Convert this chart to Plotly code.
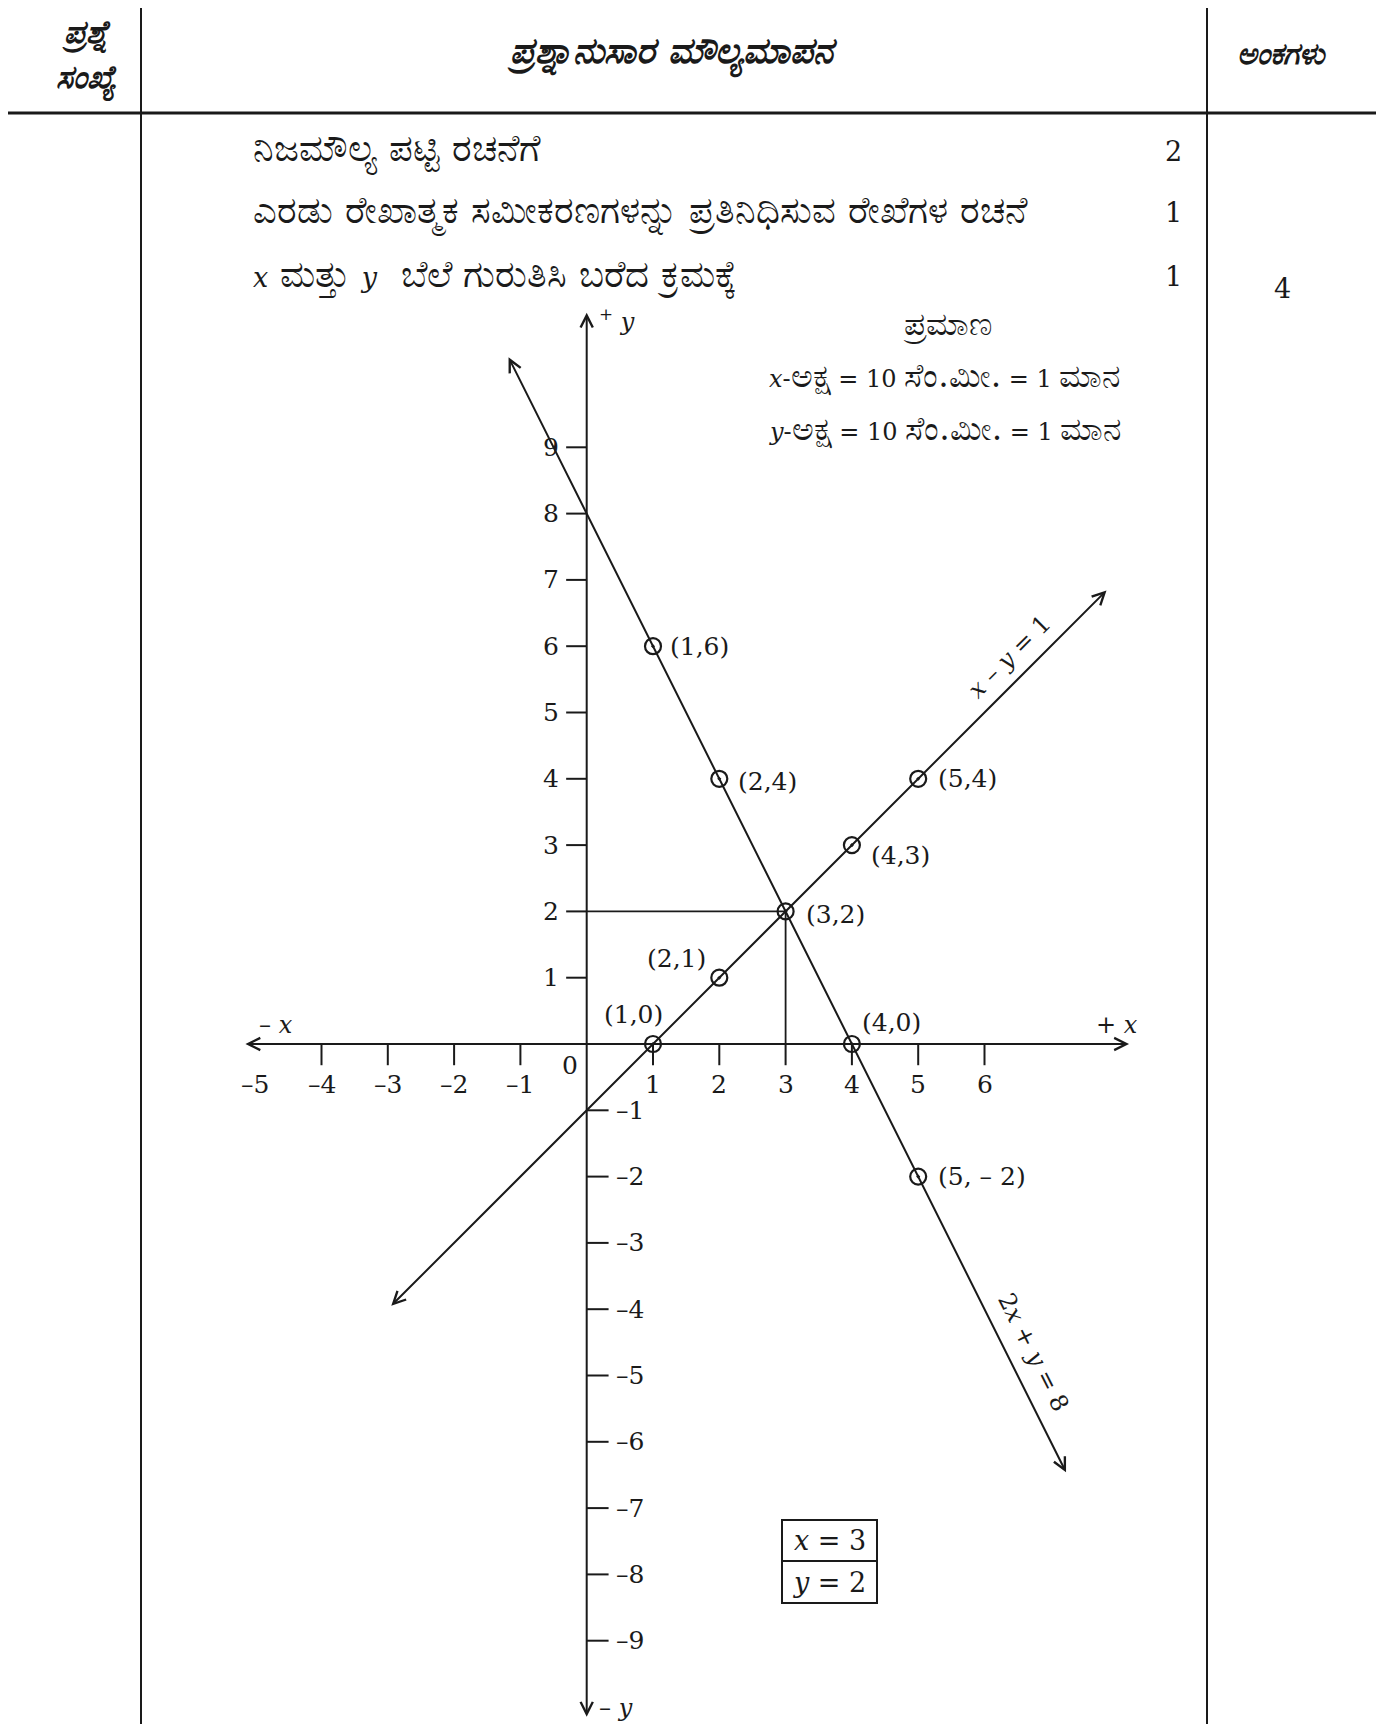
import plotly.graph_objects as go

# Table text
head_q = ["ಪ್ರಶ್ನೆ", "ಸಂಖ್ಯೆ"]
head_main = "ಪ್ರಶ್ನಾನುಸಾರ ಮೌಲ್ಯಮಾಪನ"
head_marks = "ಅಂಕಗಳು"
rows = ["ನಿಜಮೌಲ್ಯ ಪಟ್ಟಿ ರಚನೆಗೆ",
        "ಎರಡು ರೇಖಾತ್ಮಕ ಸಮೀಕರಣಗಳನ್ನು ಪ್ರತಿನಿಧಿಸುವ ರೇಖೆಗಳ ರಚನೆ",
        "<span style='font-size:27px'><i>x</i></span> ಮತ್ತು <span style='font-size:27px'><i>y</i></span>  ಬೆಲೆ ಗುರುತಿಸಿ ಬರೆದ ಕ್ರಮಕ್ಕೆ"]
row_marks = [2, 1, 1]
total_marks = 4
K = "<span style='font-size:33px'>{}</span>"
scale_title = "ಪ್ರಮಾಣ"
scale_txt = ["<i>x</i>-" + K.format("ಅಕ್ಷ") + " = 10 " + K.format("ಸೆಂ.ಮೀ.") + " = 1 " + K.format("ಮಾನ"),
             "<i>y</i>-" + K.format("ಅಕ್ಷ") + " = 10 " + K.format("ಸೆಂ.ಮೀ.") + " = 1 " + K.format("ಮಾನ")]

# Graph data
x_ticks = [-5, -4, -3, -2, -1, 1, 2, 3, 4, 5, 6]
y_pos_ticks = [1, 2, 3, 4, 5, 6, 7, 8, 9]
y_neg_ticks = [-1, -2, -3, -4, -5, -6, -7, -8, -9]

# 2x + y = 8
l1_x = [-1.19, 7.23]
l1_y = [10.38, -6.46]
p1_x = [1, 2, 4, 5]
p1_y = [6, 4, 0, -2]
# x - y = 1
l2_x = [-2.97, 7.84]
l2_y = [-3.97, 6.84]
p2_x = [1, 2, 4, 5]
p2_y = [0, 1, 3, 4]
sol = (3, 2)

# axis extents
xa = [-5.17, 8.18]
ya = [-10.17, 11.03]

OFF = 8  # page body margin
W, H = 1384 - OFF, 1724 - OFF
ox, oy, u = 586.7 - OFF, 1044 - OFF, 66.3
serif = "DejaVu Serif"
BLK = "#1a1a1a"


def px(x):
    return (x - OFF) / W


def py(y):
    return 1 - (y - OFF) / H


fig = go.Figure()

# tick marks
tx, ty = [], []
for t in x_ticks[1:]:
    tx += [t, t, None]
    ty += [0, -0.32, None]
for t in y_pos_ticks:
    tx += [-0.31, 0, None]
    ty += [t, t, None]
for t in y_neg_ticks:
    tx += [0, 0.33, None]
    ty += [t, t, None]
fig.add_trace(go.Scatter(x=tx, y=ty, mode="lines",
                         line=dict(color=BLK, width=2), hoverinfo="skip"))

# guide lines to solution
fig.add_trace(go.Scatter(x=[0, sol[0], sol[0]], y=[sol[1], sol[1], 0], mode="lines",
                         line=dict(color=BLK, width=1.8), hoverinfo="skip"))

# arrows: axes and the two lines
for (x0, x1), (y0, y1) in [(xa, (0, 0)), ((0, 0), ya), (l1_x, l1_y), (l2_x, l2_y)]:
    fig.add_annotation(x=x1, y=y1, ax=x0, ay=y0, xref="x", yref="y",
                       axref="x", ayref="y", text="", showarrow=True,
                       arrowhead=5, arrowsize=1.2, arrowwidth=2,
                       arrowside="end+start", arrowcolor=BLK)

# points
pts_x = p1_x + p2_x + [sol[0]]
pts_y = p1_y + p2_y + [sol[1]]
fig.add_trace(go.Scatter(x=pts_x, y=pts_y, mode="markers",
                         marker=dict(symbol="circle-open-dot", size=16,
                                     color=BLK, line=dict(width=2.2)),
                         hoverinfo="skip"))

# point labels (offsets in px)
lab_off = {(1, 6): (15, 0, "left"), (2, 4): (17, -3, "left"), (5, 4): (18, 0, "left"),
           (4, 3): (17, -10, "left"), (3, 2): (18, -3, "left"), (2, 1): (-43, 19, "center"),
           (1, 0): (-20, 30, "center"), (4, 0): (40, 22, "center"), (5, -2): (18, 0, "left")}
for (ptx, pty), (dx, dy, anc) in lab_off.items():
    fig.add_annotation(x=ptx, y=pty, text=f"({ptx},{pty})".replace(",-", ", – "),
                       showarrow=False, xshift=dx, yshift=dy, xanchor=anc, yanchor="middle",
                       font=dict(family=serif, size=25, color=BLK))

# tick labels
tf = dict(family=serif, size=25, color=BLK)
for t in x_ticks:
    fig.add_annotation(x=t, y=0, yshift=-40, text=str(t).replace("-", "–"),
                       showarrow=False, xanchor="center", yanchor="middle", font=tf)
for t in y_pos_ticks:
    fig.add_annotation(x=0, y=t, xshift=-36, text=str(t), showarrow=False,
                       xanchor="center", yanchor="middle", font=tf)
for t in y_neg_ticks:
    fig.add_annotation(x=0, y=t, xshift=27, xanchor="left", yanchor="middle",
                       text=str(t).replace("-", "–"), showarrow=False, font=tf)
fig.add_annotation(x=0, y=0, xshift=-17, yshift=-21, text="0", showarrow=False,
                   xanchor="center", yanchor="middle", font=tf)

# axis names
af = dict(family=serif, size=24, color=BLK)
fig.add_annotation(x=xa[0], y=0, xshift=32, yshift=19, text="– <i>x</i>", showarrow=False,
                   xanchor="center", yanchor="middle", font=af)
fig.add_annotation(x=xa[1], y=0, xshift=-12, yshift=19, text="+ <i>x</i>", showarrow=False,
                   xanchor="center", yanchor="middle", font=af)
fig.add_annotation(x=0, y=ya[1], xshift=10, yshift=-7, xanchor="left", yanchor="middle",
                   text="<sup>+</sup> <i>y</i>", showarrow=False, font=af)
fig.add_annotation(x=0, y=ya[0], xshift=10, yshift=10, xanchor="left", yanchor="middle",
                   text="– <i>y</i>", showarrow=False, font=af)

# line equation labels
fig.add_annotation(x=6.37, y=5.84, text="<i>x</i> – <i>y</i> = 1", textangle=-45,
                   showarrow=False, xanchor="center", yanchor="middle",
                   font=dict(family=serif, size=24, color=BLK))
fig.add_annotation(x=6.73, y=-4.65, text="2<i>x</i> + <i>y</i> = 8", textangle=63.4,
                   showarrow=False, xanchor="center", yanchor="middle",
                   font=dict(family=serif, size=24, color=BLK))

# scale legend
fig.add_annotation(x=px(947), y=py(324), xref="paper", yref="paper", text=scale_title,
                   showarrow=False, xanchor="center", yanchor="middle",
                   font=dict(family=serif, size=33, color=BLK))
for s, yy in zip(scale_txt, [376, 429]):
    fig.add_annotation(x=px(767), y=py(yy), xref="paper", yref="paper", text=s,
                       showarrow=False, xanchor="left", yanchor="middle",
                       font=dict(family=serif, size=24, color=BLK))

# answer box
bx0, bx1 = (782 - OFF - ox) / u, (877 - OFF - ox) / u
by0, by1, bym = (oy - 1603 + OFF) / u, (oy - 1520 + OFF) / u, (oy - 1561 + OFF) / u
fig.add_shape(type="rect", x0=bx0, x1=bx1, y0=by0, y1=by1, line=dict(color=BLK, width=2))
fig.add_shape(type="line", x0=bx0, x1=bx1, y0=bym, y1=bym, line=dict(color=BLK, width=2))
fig.add_annotation(x=(bx0 + bx1) / 2, y=(bym + by1) / 2, text=f"<i>x</i> = {sol[0]}",
                   showarrow=False, xanchor="center", yanchor="middle",
                   font=dict(family=serif, size=27, color=BLK))
fig.add_annotation(x=(bx0 + bx1) / 2, y=(by0 + bym) / 2, text=f"<i>y</i> = {sol[1]}",
                   showarrow=False, xanchor="center", yanchor="middle",
                   font=dict(family=serif, size=27, color=BLK))

# table frame
for x in [141, 1207]:
    fig.add_shape(type="line", xref="paper", yref="paper", x0=px(x), x1=px(x), y0=0, y1=1,
                  line=dict(color=BLK, width=2))
fig.add_shape(type="line", xref="paper", yref="paper", x0=0, x1=1, y0=py(113), y1=py(113),
              line=dict(color=BLK, width=3))

for t, yy in zip(head_q, [34, 80]):
    fig.add_annotation(x=px(86), y=py(yy), xref="paper", yref="paper", text=f"<b><i>{t}</i></b>",
                       showarrow=False, xanchor="center", yanchor="middle",
                       font=dict(family=serif, size=32, color=BLK))
fig.add_annotation(x=px(672), y=py(53), xref="paper", yref="paper", text=f"<b><i>{head_main}</i></b>",
                   showarrow=False, xanchor="center", yanchor="middle",
                   font=dict(family=serif, size=36, color=BLK))
fig.add_annotation(x=px(1282), y=py(53), xref="paper", yref="paper", text=f"<b><i>{head_marks}</i></b>",
                   showarrow=False, xanchor="center", yanchor="middle",
                   font=dict(family=serif, size=30, color=BLK))

for r, m, yy in zip(rows, row_marks, [151, 213, 276]):
    fig.add_annotation(x=px(251), y=py(yy), xref="paper", yref="paper", text=r, xanchor="left",
                       yanchor="middle", showarrow=False, font=dict(family=serif, size=37, color=BLK))
    fig.add_annotation(x=px(1173), y=py(yy), xref="paper", yref="paper", text=str(m),
                       xanchor="center", yanchor="middle", showarrow=False,
                       font=dict(family=serif, size=27, color=BLK))
fig.add_annotation(x=px(1282), y=py(288), xref="paper", yref="paper", text=str(total_marks),
                   xanchor="center", yanchor="middle", showarrow=False,
                   font=dict(family=serif, size=27, color=BLK))

fig.update_layout(width=W, height=H, autosize=False, showlegend=False,
                  margin=dict(l=0, r=0, t=0, b=0),
                  paper_bgcolor="white", plot_bgcolor="white",
                  xaxis=dict(range=[-ox / u, (W - ox) / u], visible=False, fixedrange=True),
                  yaxis=dict(range=[(oy - H) / u, oy / u], visible=False, fixedrange=True))

fig.write_html("out.html")
